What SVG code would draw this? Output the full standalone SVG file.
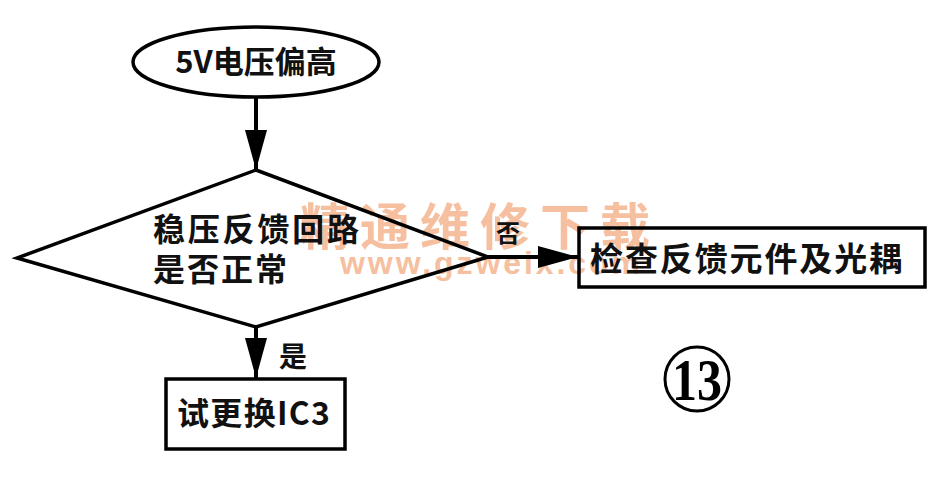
<svg xmlns="http://www.w3.org/2000/svg" width="949" height="486" viewBox="0 0 949 486">
<style>
  .shape { fill: none; stroke: #000; stroke-width: 3.5; }
  .lbl { font-family: "Noto Sans CJK SC", "Liberation Sans", sans-serif; font-weight: bold; fill: #111; }
  .conn { stroke: #000; stroke-width: 4; fill: none; }
  .wm { font-weight: bold; fill: #f4b590; opacity: 0.85; }
</style>
<defs>
  <marker id="ah" viewBox="0 0 40 22" refX="40" refY="11" markerWidth="40" markerHeight="22" markerUnits="userSpaceOnUse" orient="auto">
    <path d="M0,0 L40,11 L0,22 Z" fill="#000"/>
  </marker>
</defs>
<rect width="949" height="486" fill="#fff"/>

<g id="watermark">
  <text class="wm" x="300" y="245" font-family="Noto Sans CJK SC, sans-serif" font-size="50" textLength="350" lengthAdjust="spacing">精通维修下载</text>
  <text class="wm" x="340" y="274" font-family="Liberation Sans, Arial, sans-serif" font-size="32" textLength="300" lengthAdjust="spacing">www.gzweix.com</text>
</g>

<g id="connectors">
  <line class="conn" x1="256" y1="98" x2="256" y2="170" marker-end="url(#ah)"/>
  <line class="conn" x1="488" y1="257" x2="578" y2="257" marker-end="url(#ah)"/>
  <line class="conn" x1="256" y1="327" x2="256" y2="378" marker-end="url(#ah)"/>
  <text class="lbl" x="508" y="242" font-size="24" text-anchor="middle">否</text>
  <text class="lbl" x="293" y="367" font-size="28" text-anchor="middle">是</text>
</g>

<g id="start">
  <ellipse class="shape" cx="256" cy="62" rx="123" ry="35" stroke-width="4"/>
  <text class="lbl" x="256" y="73" font-size="31" text-anchor="middle">5V电压偏高</text>
</g>

<g id="decision">
  <polygon class="shape" points="256,170 488,257 256,327 17,258" stroke-width="3"/>
  <text class="lbl" x="153" y="241" font-size="32" textLength="206" lengthAdjust="spacing">稳压反馈回路</text>
  <text class="lbl" x="153" y="281" font-size="32" textLength="134" lengthAdjust="spacing">是否正常</text>
</g>

<g id="check">
  <rect class="shape" x="579" y="228" width="346" height="59"/>
  <text class="lbl" x="590" y="271" font-size="33" textLength="312" lengthAdjust="spacing">检查反馈元件及光耦</text>
</g>

<g id="replace">
  <rect class="shape" x="166" y="379" width="179" height="70"/>
  <text class="lbl" x="177" y="425" font-size="32" textLength="153" lengthAdjust="spacing">试更换IC3</text>
</g>

<g id="figure-number">
  <circle cx="697" cy="379" r="32" fill="none" stroke="#000" stroke-width="3"/>
  <text x="697" y="400" font-family="Liberation Serif, serif" font-weight="bold" font-size="60" text-anchor="middle" textLength="50" lengthAdjust="spacingAndGlyphs">13</text>
</g>
</svg>
